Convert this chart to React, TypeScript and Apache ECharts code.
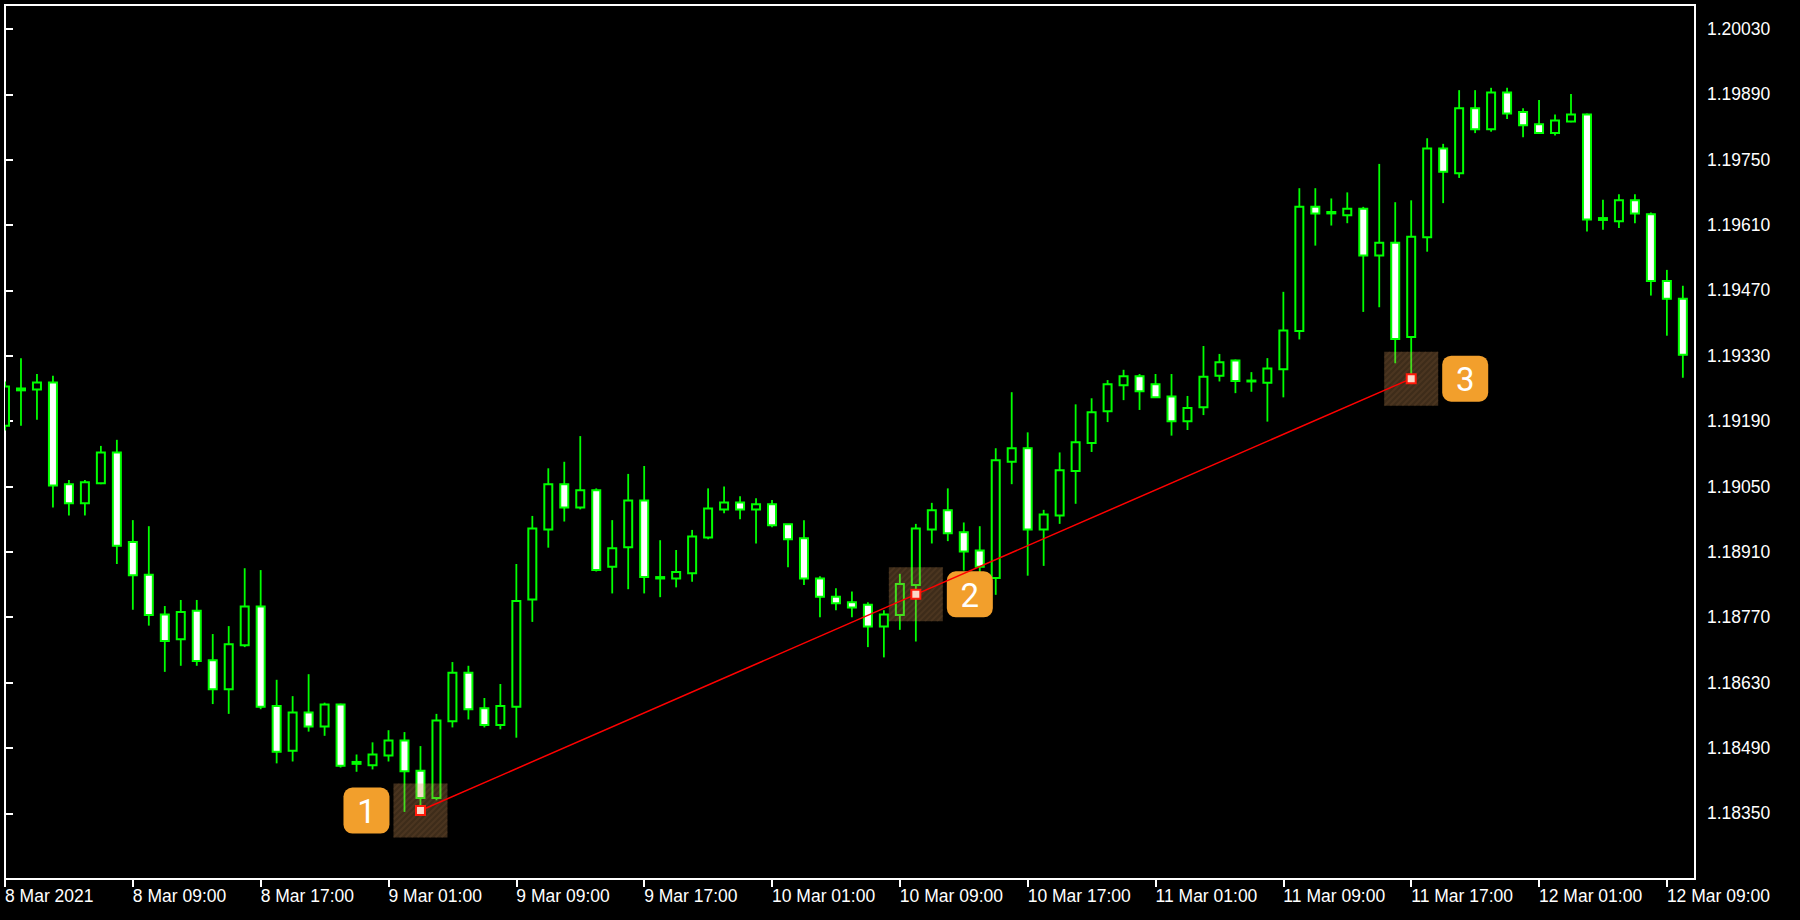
import React, { useEffect, useRef } from "react";
import * as echarts from "echarts";

// EURUSD H1 candles, 8 Mar 2021 01:00 onward (one bar per hour)
const opens = [
  1.19180, 1.19260, 1.19258, 1.19273, 1.19055, 1.19014, 1.19057, 1.19123, 1.18931, 1.18861,
  1.18776, 1.18723, 1.18784, 1.18678, 1.18616, 1.18710, 1.18793, 1.18580, 1.18484, 1.18566,
  1.18536, 1.18583, 1.18460, 1.18453, 1.18474, 1.18506, 1.18441, 1.18383, 1.18547, 1.18651,
  1.18575, 1.18539, 1.18578, 1.18808, 1.18958, 1.19055, 1.19005, 1.19042, 1.18878, 1.18920,
  1.19020, 1.18856, 1.18853, 1.18864, 1.18941, 1.19001, 1.19016, 1.19001, 1.19012, 1.18969,
  1.18939, 1.18853, 1.18814, 1.18802, 1.18797, 1.18750, 1.18775, 1.18839, 1.18958, 1.18999,
  1.18952, 1.18913, 1.18854, 1.19103, 1.19132, 1.18958, 1.18988, 1.19083, 1.19143, 1.19211,
  1.19267, 1.19286, 1.19269, 1.19243, 1.19190, 1.19220, 1.19287, 1.19320, 1.19277, 1.19272,
  1.19301, 1.19383, 1.19649, 1.19638, 1.19631, 1.19645, 1.19545, 1.19572, 1.19370, 1.19584,
  1.19774, 1.19721, 1.19860, 1.19815, 1.19894, 1.19852, 1.19826, 1.19807, 1.19832, 1.19847,
  1.19625, 1.19618, 1.19663, 1.19633, 1.19490, 1.19452,
];
const highs = [
  1.19275, 1.19325, 1.19291, 1.19287, 1.19064, 1.19064, 1.19137, 1.19150, 1.18978, 1.18965,
  1.18794, 1.18807, 1.18807, 1.18734, 1.18751, 1.18875, 1.18871, 1.18636, 1.18601, 1.18648,
  1.18587, 1.18585, 1.18476, 1.18502, 1.18528, 1.18524, 1.18494, 1.18563, 1.18674, 1.18666,
  1.18597, 1.18627, 1.18884, 1.18987, 1.19089, 1.19103, 1.19158, 1.19046, 1.18978, 1.19077,
  1.19094, 1.18935, 1.18914, 1.18957, 1.19046, 1.19050, 1.19029, 1.19025, 1.19021, 1.18969,
  1.18978, 1.18858, 1.18832, 1.18825, 1.18802, 1.18785, 1.18863, 1.18970, 1.19015, 1.19046,
  1.18973, 1.18965, 1.19132, 1.19252, 1.19166, 1.19000, 1.19123, 1.19226, 1.19239, 1.19278,
  1.19300, 1.19291, 1.19291, 1.19291, 1.19244, 1.19351, 1.19334, 1.19322, 1.19295, 1.19325,
  1.19467, 1.19689, 1.19689, 1.19667, 1.19680, 1.19649, 1.19741, 1.19659, 1.19663, 1.19796,
  1.19784, 1.19899, 1.19899, 1.19904, 1.19904, 1.19860, 1.19878, 1.19847, 1.19891, 1.19849,
  1.19664, 1.19676, 1.19676, 1.19637, 1.19514, 1.19480,
];
const lows = [
  1.19170, 1.19180, 1.19193, 1.19005, 1.18988, 1.18988, 1.19055, 1.18884, 1.18786, 1.18752,
  1.18653, 1.18666, 1.18666, 1.18584, 1.18563, 1.18706, 1.18573, 1.18457, 1.18461, 1.18525,
  1.18516, 1.18448, 1.18439, 1.18444, 1.18461, 1.18353, 1.18356, 1.18378, 1.18534, 1.18551,
  1.18534, 1.18530, 1.18512, 1.18760, 1.18919, 1.18975, 1.19001, 1.18868, 1.18821, 1.18830,
  1.18821, 1.18813, 1.18834, 1.18846, 1.18937, 1.18993, 1.18980, 1.18928, 1.18963, 1.18877,
  1.18839, 1.18770, 1.18785, 1.18770, 1.18706, 1.18684, 1.18743, 1.18718, 1.18928, 1.18933,
  1.18870, 1.18867, 1.18818, 1.19055, 1.18859, 1.18880, 1.18970, 1.19013, 1.19124, 1.19188,
  1.19235, 1.19214, 1.19241, 1.19159, 1.19171, 1.19203, 1.19275, 1.19250, 1.19253, 1.19189,
  1.19241, 1.19365, 1.19566, 1.19609, 1.19614, 1.19424, 1.19434, 1.19314, 1.19287, 1.19553,
  1.19657, 1.19711, 1.19807, 1.19810, 1.19837, 1.19798, 1.19807, 1.19802, 1.19830, 1.19596,
  1.19600, 1.19604, 1.19614, 1.19459, 1.19373, 1.19283,
];
const closes = [
  1.19264, 1.19256, 1.19273, 1.19052, 1.19014, 1.19059, 1.19123, 1.18923, 1.18860, 1.18775,
  1.18719, 1.18781, 1.18676, 1.18616, 1.18712, 1.18793, 1.18578, 1.18482, 1.18566, 1.18536,
  1.18583, 1.18452, 1.18456, 1.18476, 1.18506, 1.18440, 1.18383, 1.18549, 1.18651, 1.18573,
  1.18539, 1.18580, 1.18805, 1.18960, 1.19055, 1.19005, 1.19042, 1.18871, 1.18918, 1.19020,
  1.18856, 1.18853, 1.18867, 1.18943, 1.19003, 1.19016, 1.19001, 1.19012, 1.18967, 1.18937,
  1.18853, 1.18814, 1.18800, 1.18791, 1.18750, 1.18776, 1.18841, 1.18960, 1.18999, 1.18950,
  1.18911, 1.18878, 1.19106, 1.19132, 1.18958, 1.18990, 1.19085, 1.19145, 1.19209, 1.19269,
  1.19286, 1.19254, 1.19241, 1.19190, 1.19218, 1.19285, 1.19316, 1.19276, 1.19275, 1.19303,
  1.19384, 1.19649, 1.19635, 1.19635, 1.19645, 1.19545, 1.19572, 1.19366, 1.19585, 1.19774,
  1.19724, 1.19860, 1.19815, 1.19894, 1.19849, 1.19824, 1.19807, 1.19834, 1.19847, 1.19622,
  1.19621, 1.19663, 1.19635, 1.19490, 1.19452, 1.19332,
];

// time axis ticks (bar index) and their labels
const xTickIndex = [0, 8, 16, 24, 32, 40, 48, 56, 64, 72, 80, 88, 96, 104];
const xTickLabels = [
  "8 Mar 2021", "8 Mar 09:00", "8 Mar 17:00", "9 Mar 01:00", "9 Mar 09:00",
  "9 Mar 17:00", "10 Mar 01:00", "10 Mar 09:00", "10 Mar 17:00", "11 Mar 01:00",
  "11 Mar 09:00", "11 Mar 17:00", "12 Mar 01:00", "12 Mar 09:00",
];
const yTicks = [
  1.2003, 1.1989, 1.1975, 1.1961, 1.1947, 1.1933, 1.1919, 1.1905, 1.1891,
  1.1877, 1.1863, 1.1849, 1.1835,
];

// trendline anchor points
const trendIndex = [26, 57, 88];
const trendValues = [1.18356, 1.18819, 1.19281];
const trendLabels = ["1", "2", "3"];

const X_MIN = 0;
const X_MAX = 105.76;
const Y_MIN = 1.182093;
const Y_MAX = 1.200814;

const GREEN = "#00ff00";
const FONT = "'Liberation Sans', Arial, sans-serif";

export default function App() {
  const ref = useRef<HTMLDivElement>(null);

  useEffect(() => {
    if (!ref.current) return;
    const chart = echarts.init(ref.current, null, { renderer: "svg" });

    const candleData = opens.map((o, i) => [i, o, closes[i], lows[i], highs[i]]);

    const candleRender = (params: any, api: any) => {
      const i = api.value(0);
      const o = api.value(1);
      const c = api.value(2);
      const l = api.value(3);
      const h = api.value(4);
      const pO = api.coord([i, o]);
      const x = pO[0];
      const yo = pO[1];
      const yc = api.coord([i, c])[1];
      const yl = api.coord([i, l])[1];
      const yh = api.coord([i, h])[1];
      const top = Math.min(yo, yc);
      const bot = Math.max(yo, yc);
      const half = 4;
      return {
        type: "group",
        children: [
          { type: "line", shape: { x1: x, y1: yh, x2: x, y2: top }, style: { stroke: GREEN, lineWidth: 1.8 } },
          { type: "line", shape: { x1: x, y1: bot, x2: x, y2: yl }, style: { stroke: GREEN, lineWidth: 1.8 } },
          {
            type: "rect",
            shape: { x: x - half, y: top, width: half * 2, height: Math.max(bot - top, 0.6) },
            style: { fill: c < o ? "#ffffff" : "#000000", stroke: GREEN, lineWidth: 2 },
          },
        ],
      };
    };

    const annoData = trendIndex.map((i, k) => [i, trendValues[k], k]);
    const annoRender = (params: any, api: any) => {
      const p = api.coord([api.value(0), api.value(1)]);
      const k = api.value(2);
      const cx = p[0];
      const cy = p[1];
      const s = 54;
      const bx = cx - s / 2;
      const by = cy - s / 2;
      const stripes: any[] = [];
      const step = 6;
      for (let kk = step; kk < 2 * s; kk += step) {
        let x1, y1, x2, y2;
        if (kk <= s) {
          x1 = bx + kk; y1 = by; x2 = bx; y2 = by + kk;
        } else {
          x1 = bx + s; y1 = by + kk - s; x2 = bx + kk - s; y2 = by + s;
        }
        stripes.push({
          type: "line",
          shape: { x1, y1, x2, y2 },
          style: { stroke: "rgba(255,190,120,0.07)", lineWidth: 2 },
        });
      }
      const side = k === 0 ? -1 : 1;
      const lx = cx + side * 54;
      const ls = 46;
      return {
        type: "group",
        children: [
          {
            type: "rect",
            shape: { x: bx, y: by, width: s, height: s },
            style: { fill: "rgba(205,145,85,0.30)" },
          },
          ...stripes,
          {
            type: "rect",
            shape: { x: lx - ls / 2, y: cy - ls / 2, width: ls, height: ls, r: 9 },
            style: { fill: "#f29f2c" },
          },
          {
            type: "text",
            style: {
              text: trendLabels[k],
              x: lx,
              y: cy + 1,
              align: "center",
              verticalAlign: "middle",
              fill: "#ffffff",
              fontSize: 33,
              fontFamily: "Roboto, 'Noto Sans', sans-serif",
            },
          },
        ],
      };
    };

    chart.setOption({
      animation: false,
      backgroundColor: "#000000",
      grid: {
        left: 5,
        top: 5,
        right: 105,
        bottom: 41,
        show: true,
        borderColor: "#ffffff",
        borderWidth: 2,
        backgroundColor: "#000000",
      },
      xAxis: {
        type: "value",
        min: X_MIN,
        max: X_MAX,
        splitLine: { show: false },
        axisLine: { show: true, lineStyle: { color: "#ffffff", width: 2 } },
        axisTick: {
          show: true,
          customValues: xTickIndex,
          length: 8,
          lineStyle: { color: "#ffffff", width: 2 },
        },
        axisLabel: {
          show: true,
          customValues: xTickIndex,
          formatter: (v: number) => {
            const idx = xTickIndex.indexOf(Math.round(v));
            return idx >= 0 ? xTickLabels[idx] : "";
          },
          color: "#ffffff",
          fontSize: 17.5,
          fontFamily: FONT,
          align: "left",
          margin: 8,
          hideOverlap: false,
        },
      },
      yAxis: {
        type: "value",
        position: "right",
        min: Y_MIN,
        max: Y_MAX,
        scale: true,
        splitLine: { show: false },
        axisLine: { show: true, lineStyle: { color: "#ffffff", width: 2 } },
        axisTick: {
          show: true,
          customValues: yTicks,
          length: 8,
          lineStyle: { color: "#ffffff", width: 2 },
        },
        axisLabel: {
          show: true,
          customValues: yTicks,
          formatter: (v: number) => v.toFixed(5),
          color: "#ffffff",
          fontSize: 17.5,
          fontFamily: FONT,
          margin: 12,
        },
      },
      series: [
        {
          type: "custom",
          name: "candles",
          renderItem: candleRender,
          data: candleData,
          clip: true,
          z: 2,
          encode: { x: 0, y: [1, 2, 3, 4] },
        },
        {
          type: "custom",
          name: "zones",
          renderItem: annoRender,
          data: annoData,
          z: 3,
          encode: { x: 0, y: 1 },
        },
        {
          type: "line",
          name: "trend",
          data: trendIndex.map((i, k) => [i, trendValues[k]]),
          symbol: "rect",
          symbolSize: 9,
          showSymbol: true,
          lineStyle: { color: "#ff0000", width: 1.5 },
          itemStyle: { color: "#fbd9c9", borderColor: "#ff1a0a", borderWidth: 2 },
          z: 4,
        },
      ],
    });

    return () => {
      chart.dispose();
    };
  }, []);

  return (
    <div
      ref={ref}
      style={{ position: "fixed", left: 0, top: 0, width: 1800, height: 920, background: "#000" }}
    />
  );
}
